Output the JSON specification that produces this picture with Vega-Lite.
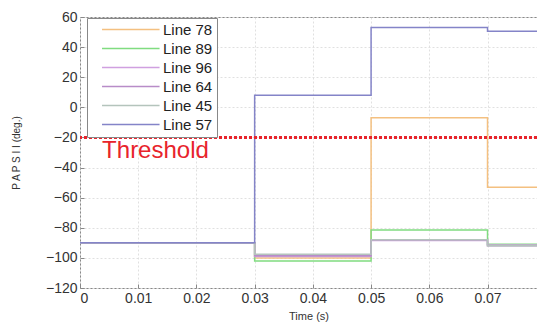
{
  "$schema": "https://vega.github.io/schema/vega-lite/v6.json",
  "width": 457,
  "height": 271,
  "autosize": {"type": "none"},
  "padding": {"left": 80, "top": 17, "right": 0, "bottom": 39},
  "background": "white",
  "config": {
    "font": "Liberation Sans",
    "view": {"stroke": "#888888", "strokeWidth": 1},
    "axis": {
      "labelFont": "Liberation Sans",
      "labelFontSize": 14,
      "labelColor": "#333333",
      "titleFont": "Liberation Sans",
      "titleFontWeight": "normal",
      "titleColor": "#333333",
      "gridColor": "#e0e0e0",
      "gridDash": [2, 2],
      "tickColor": "#888888",
      "domainColor": "#888888"
    }
  },
  "datasets": {
    "lines": [
      {"series": "Line 78", "t": 0, "v": -90},
      {"series": "Line 78", "t": 0.03, "v": -100},
      {"series": "Line 78", "t": 0.05, "v": -7},
      {"series": "Line 78", "t": 0.07, "v": -53},
      {"series": "Line 78", "t": 0.0785, "v": -53},
      {"series": "Line 89", "t": 0, "v": -90},
      {"series": "Line 89", "t": 0.03, "v": -102},
      {"series": "Line 89", "t": 0.05, "v": -81.5},
      {"series": "Line 89", "t": 0.07, "v": -91},
      {"series": "Line 89", "t": 0.0785, "v": -91},
      {"series": "Line 96", "t": 0, "v": -90},
      {"series": "Line 96", "t": 0.03, "v": -99},
      {"series": "Line 96", "t": 0.05, "v": -88.5},
      {"series": "Line 96", "t": 0.07, "v": -91.5},
      {"series": "Line 96", "t": 0.0785, "v": -91.5},
      {"series": "Line 64", "t": 0, "v": -90},
      {"series": "Line 64", "t": 0.03, "v": -98.5},
      {"series": "Line 64", "t": 0.05, "v": -88},
      {"series": "Line 64", "t": 0.07, "v": -92},
      {"series": "Line 64", "t": 0.0785, "v": -92},
      {"series": "Line 45", "t": 0, "v": -90},
      {"series": "Line 45", "t": 0.03, "v": -97.5},
      {"series": "Line 45", "t": 0.05, "v": -88},
      {"series": "Line 45", "t": 0.07, "v": -92},
      {"series": "Line 45", "t": 0.0785, "v": -92},
      {"series": "Line 57", "t": 0, "v": -90},
      {"series": "Line 57", "t": 0.03, "v": 8},
      {"series": "Line 57", "t": 0.05, "v": 53},
      {"series": "Line 57", "t": 0.07, "v": 50.5},
      {"series": "Line 57", "t": 0.0785, "v": 50.5}
    ],
    "threshold": [{"v": -20}],
    "label": [{"t": 0.0038, "v": -29, "text": "Threshold"}]
  },
  "encoding": {
    "y": {
      "field": "v", "type": "quantitative",
      "scale": {"domain": [-120, 60], "nice": false},
      "axis": {
        "title": "P A P S I I (deg.)", "titleFontSize": 10, "titlePadding": 24,
        "tickCount": 10,
        "values": [-120, -100, -80, -60, -40, -20, 0, 20, 40, 60],
        "tickSize": -4, "labelPadding": 7, "domain": false, "labelOverlap": false, "labelFlush": false, "labelBound": false
      }
    }
  },
  "layer": [
    {
      "data": {"name": "lines"},
      "mark": {"type": "line", "interpolate": "step-after", "strokeWidth": 1.5, "clip": true},
      "encoding": {
        "x": {
          "field": "t", "type": "quantitative",
          "scale": {"domain": [0, 0.0785], "nice": false, "zero": false},
          "axis": {
            "title": "Time (s)", "titleFontSize": 11, "titlePadding": 5,
            "values": [0, 0.01, 0.02, 0.03, 0.04, 0.05, 0.06, 0.07],
            "labelExpr": "datum.value == 0 ? '0' : format(datum.value, '.2f')",
            "tickSize": -4, "labelPadding": 7, "domain": false, "labelOverlap": false
          }
        },
        "color": {
          "field": "series", "type": "nominal",
          "scale": {
            "domain": ["Line 78", "Line 89", "Line 96", "Line 64", "Line 45", "Line 57"],
            "range": ["#f4c080", "#80dc80", "#d0a0e0", "#b88cc8", "#b4c4bc", "#8484c8"]
          },
          "legend": {
            "title": null,
            "orient": "none",
            "legendX": 7,
            "legendY": 1,
            "symbolType": "M0.64,0H11.1",
            "symbolSize": 121,
            "symbolStrokeWidth": 1.5,
            "labelFontSize": 15,
            "labelColor": "#222222",
            "labelFont": "Liberation Sans",
            "labelOffset": 57,
            "rowPadding": 3,
            "fillColor": "white",
            "strokeColor": "#888888",
            "padding": 4
          }
        },
        "order": {"field": "series"}
      }
    },
    {
      "data": {"name": "threshold"},
      "mark": {"type": "rule", "color": "#e8242c", "strokeWidth": 3, "strokeDash": [3, 2]},
      "encoding": {}
    },
    {
      "data": {"name": "label"},
      "mark": {"type": "text", "color": "#e8242c", "fontSize": 24, "align": "left", "baseline": "middle", "font": "Liberation Sans"},
      "encoding": {
        "x": {"field": "t", "type": "quantitative"},
        "text": {"field": "text"}
      }
    }
  ]
}
